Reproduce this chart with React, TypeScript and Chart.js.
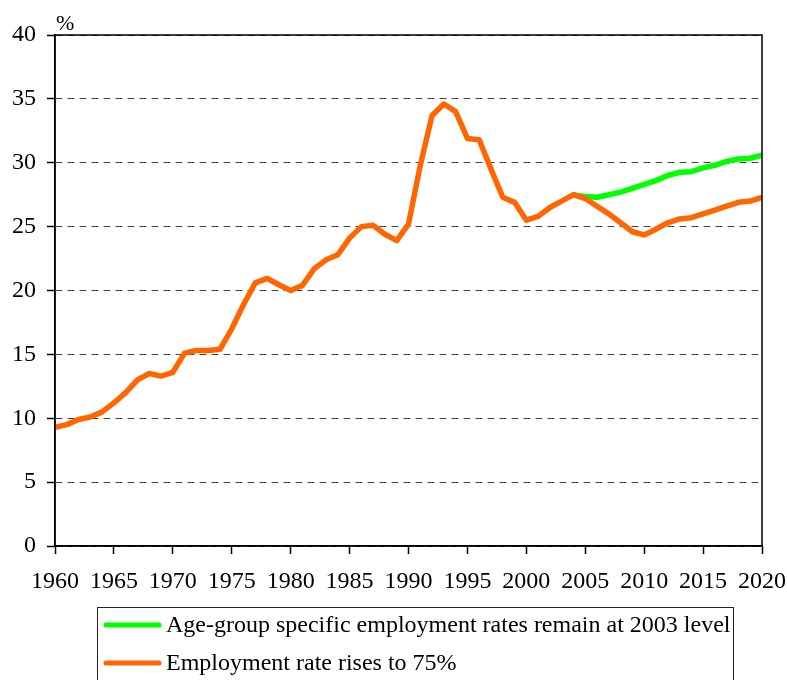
import React, { useEffect, useRef } from "react";
import { Chart, registerables } from "chart.js";

Chart.register(...registerables);

const years = [
  1960, 1961, 1962, 1963, 1964, 1965, 1966, 1967, 1968, 1969,
  1970, 1971, 1972, 1973, 1974, 1975, 1976, 1977, 1978, 1979,
  1980, 1981, 1982, 1983, 1984, 1985, 1986, 1987, 1988, 1989,
  1990, 1991, 1992, 1993, 1994, 1995, 1996, 1997, 1998, 1999,
  2000, 2001, 2002, 2003, 2004, 2005, 2006, 2007, 2008, 2009,
  2010, 2011, 2012, 2013, 2014, 2015, 2016, 2017, 2018, 2019, 2020,
];

const employmentRateValues = [
  9.3, 9.5, 9.9, 10.1, 10.5, 11.2, 12.0, 13.0, 13.5, 13.3,
  13.6, 15.1, 15.3, 15.3, 15.4, 17.0, 18.9, 20.6, 20.95, 20.45,
  20.0, 20.4, 21.7, 22.4, 22.8, 24.1, 25.0, 25.1, 24.4, 23.9,
  25.2, 29.8, 33.7, 34.6, 34.0, 31.9, 31.8, 29.5, 27.3, 26.9,
  25.5, 25.8, 26.5, 27.0, 27.5, 27.2, 26.6, 26.0, 25.3, 24.6,
  24.35, 24.8, 25.3, 25.6, 25.7, 26.0, 26.3, 26.6, 26.9, 27.0, 27.3,
];

const ageGroupYears = [
  2004, 2005, 2006, 2007, 2008, 2009, 2010, 2011, 2012,
  2013, 2014, 2015, 2016, 2017, 2018, 2019, 2020,
];

const ageGroupValues = [
  27.5, 27.35, 27.3, 27.5, 27.7, 28.0, 28.3, 28.6, 29.0,
  29.25, 29.3, 29.6, 29.8, 30.1, 30.3, 30.35, 30.6,
];

const seriesLabels = [
  "Age-group specific employment rates remain at 2003 level",
  "Employment rate rises to 75%",
];
const seriesColors = ["#00FF00", "#FF6600"];
const unitLabel = "%";

const FONT = "'Liberation Serif', 'Times New Roman', serif";

const boxLegendPlugin = {
  id: "boxLegend",
  afterDraw(chart: any) {
    const { ctx, chartArea } = chart;
    ctx.save();
    // plot frame
    ctx.strokeStyle = "#000";
    ctx.lineWidth = 1.5;
    ctx.strokeRect(
      chartArea.left,
      chartArea.top,
      chartArea.right - chartArea.left,
      chartArea.bottom - chartArea.top
    );
    // unit label
    ctx.fillStyle = "#000";
    ctx.font = `22px ${FONT}`;
    ctx.textAlign = "left";
    ctx.textBaseline = "alphabetic";
    ctx.fillText(unitLabel, chartArea.left + 1, 30);

    // legend box
    const bx = 97.5;
    const by = 607.5;
    const bw = 636;
    const bh = 90;
    ctx.lineWidth = 1;
    ctx.strokeStyle = "#222";
    ctx.strokeRect(bx, by, bw, bh);
    const rows = [625, 663];
    seriesLabels.forEach((label, i) => {
      ctx.strokeStyle = seriesColors[i];
      ctx.lineWidth = 5;
      ctx.lineCap = "round";
      ctx.beginPath();
      ctx.moveTo(106, rows[i]);
      ctx.lineTo(159, rows[i]);
      ctx.stroke();
      ctx.fillStyle = "#000";
      ctx.font = `24px ${FONT}`;
      ctx.textBaseline = "middle";
      ctx.fillText(label, 166, rows[i] + 1);
    });
    ctx.restore();
  },
};

export default function App() {
  const canvasRef = useRef<HTMLCanvasElement | null>(null);

  useEffect(() => {
    document.body.style.margin = "0";
    const canvas = canvasRef.current;
    if (!canvas) return;
    const chart = new Chart(canvas, {
      type: "line",
      data: {
        datasets: [
          {
            label: seriesLabels[0],
            data: ageGroupYears.map((x, i) => ({ x, y: ageGroupValues[i] })),
            borderColor: seriesColors[0],
            backgroundColor: seriesColors[0],
            borderWidth: 5.5,
            pointRadius: 0,
            tension: 0,
            borderJoinStyle: "round",
            order: 1,
          },
          {
            label: seriesLabels[1],
            data: years.map((x, i) => ({ x, y: employmentRateValues[i] })),
            borderColor: seriesColors[1],
            backgroundColor: seriesColors[1],
            borderWidth: 5.5,
            pointRadius: 0,
            tension: 0,
            borderJoinStyle: "round",
            order: 0,
          },
        ],
      },
      options: {
        animation: false,
        responsive: true,
        maintainAspectRatio: false,
        layout: { padding: { left: 0, right: 25, top: 35, bottom: 74 } },
        plugins: {
          legend: { display: false },
          tooltip: { enabled: false },
        },
        scales: {
          x: {
            type: "linear",
            min: 1960,
            max: 2020,
            ticks: {
              stepSize: 5,
              color: "#000",
              font: { family: FONT, size: 24 },
              padding: 13,
              maxRotation: 0,
              callback: (v: any) => String(v),
            },
            grid: {
              drawOnChartArea: false,
              drawTicks: true,
              tickLength: 8,
              tickColor: "#000",
              tickWidth: 1.5,
            },
            border: { color: "#000", width: 1.5 },
            afterFit: (s: any) => {
              s.height = 60;
              s.paddingLeft = 0;
              s.paddingRight = 0;
            },
          },
          y: {
            min: 0,
            max: 40,
            ticks: {
              stepSize: 5,
              color: "#000",
              font: { family: FONT, size: 24 },
              padding: 11,
            },
            grid: {
              color: "#444",
              lineWidth: 1,
              tickLength: 8,
              tickColor: "#000",
              tickWidth: 1.5,
              tickBorderDash: [],
            },
            border: { color: "#000", width: 1.5, dash: [7, 5] },
            afterFit: (s: any) => {
              s.width = 55;
            },
          },
        },
      },
      plugins: [boxLegendPlugin],
    });
    return () => chart.destroy();
  }, []);

  return (
    <div style={{ width: 787, height: 680, position: "relative" }}>
      <canvas ref={canvasRef} />
    </div>
  );
}
